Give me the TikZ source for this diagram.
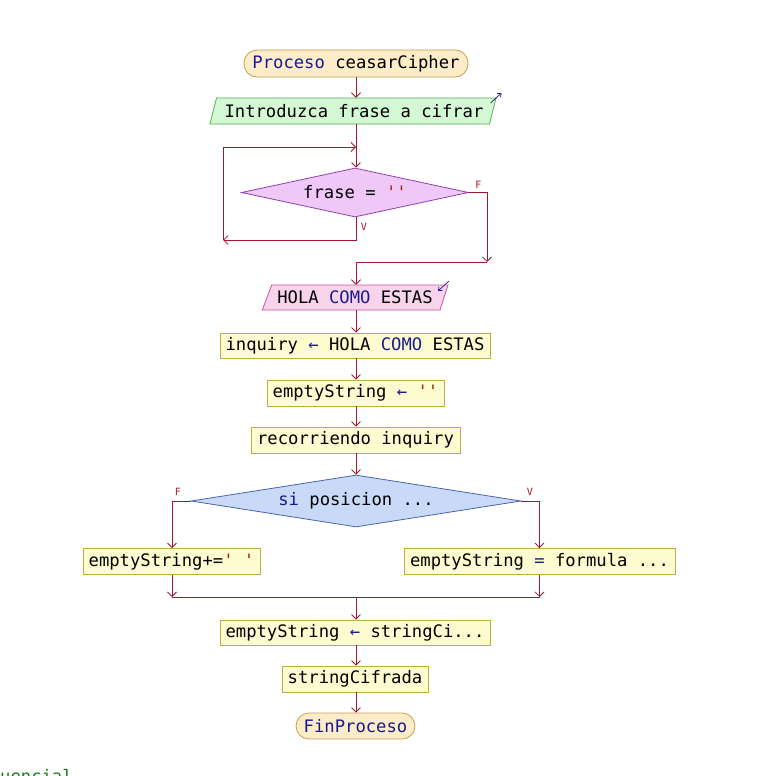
\documentclass[tikz,border=0pt]{standalone}
\usepackage{fontspec}
\setmonofont{DejaVu Sans Mono}
\usetikzlibrary{arrows.meta,shapes.geometric}
\definecolor{ln}{HTML}{A01830}
\definecolor{kw}{HTML}{1A1A90}
\definecolor{str}{HTML}{B02020}
\definecolor{termf}{HTML}{FDECC8}
\definecolor{termb}{HTML}{C89E50}
\definecolor{inf}{HTML}{D4F8D4}
\definecolor{inb}{HTML}{50B050}
\definecolor{outf}{HTML}{F8D4EC}
\definecolor{outb}{HTML}{D050A0}
\definecolor{procf}{HTML}{FCFCD0}
\definecolor{procb}{HTML}{B8B040}
\definecolor{donef}{HTML}{F0C8F8}
\definecolor{doneb}{HTML}{9040A8}
\definecolor{dtwof}{HTML}{C8DAF8}
\definecolor{dtwob}{HTML}{4A64A8}
\definecolor{seqc}{HTML}{1A7A1A}
\begin{document}
\begin{tikzpicture}[x=1pt,y=-1pt,
  >={Straight Barb[length=4.5pt,width=9pt]},
  conn/.style={draw=ln,line width=0.8pt},
  code/.style={font=\ttfamily\fontsize{17.2}{20}\selectfont,inner sep=0pt},
  term/.style={code,draw=termb,fill=termf,line width=0.8pt,rounded corners=13pt},
  proc/.style={code,draw=procb,fill=procf,line width=0.8pt},
  ghost/.style={code},
  dec/.style={code,diamond,line width=0.8pt},
  lab/.style={font=\ttfamily\fontsize{10}{11}\selectfont,text=ln,inner sep=0pt},
  icon/.style={draw=kw,line width=0.7pt,-{Straight Barb[length=3pt,width=5pt]}}]
\useasboundingbox (0,0) rectangle (757,776);
% shapes for input / output
\draw[fill=inf,draw=inb,line width=0.8pt] (216.5,98) -- (496,98) -- (489.5,124) -- (210,124) -- cycle;
\draw[fill=outf,draw=outb,line width=0.8pt] (271.7,285) -- (448,285) -- (440,310) -- (262.3,310) -- cycle;
% nodes
\node[term,minimum width=224pt,minimum height=27pt] (start) at (356,63.5) {{\color{kw}Proceso} ceasarCipher};
\node[ghost,minimum width=280pt,minimum height=26pt] (in) at (354,111) {Introduzca frase a cifrar};
\node[dec,draw=doneb,fill=donef,shape aspect=4.6,minimum width=227pt,minimum height=49pt] (d1) at (355,192.5) {frase = {\color{str}''}};
\node[ghost,minimum width=180pt,minimum height=25pt] (out) at (355,297.5) {HOLA {\color{kw}COMO} ESTAS};
\node[proc,minimum width=270pt,minimum height=25pt] (inq) at (355,345.5) {inquiry {\color{kw}←} HOLA {\color{kw}COMO} ESTAS};
\node[proc,minimum width=177pt,minimum height=26pt] (es) at (355.5,393) {emptyString {\color{kw}←} {\color{str}''}};
\node[proc,minimum width=209pt,minimum height=26pt] (rec) at (355.5,440) {recorriendo inquiry};
\node[dec,draw=dtwob,fill=dtwof,shape aspect=6.3,minimum width=330pt,minimum height=52pt] (d2) at (356,501) {{\color{kw}si} posicion ...};
\node[proc,minimum width=177pt,minimum height=26pt] (left) at (171.5,561.5) {emptyString+={\color{str}' '}};
\node[proc,minimum width=271pt,minimum height=26pt] (right) at (539.5,561.5) {emptyString {\color{kw}=} formula ...};
\node[proc,minimum width=270pt,minimum height=25pt] (esc) at (355,632.5) {emptyString {\color{kw}←} stringCi...};
\node[proc,minimum width=146pt,minimum height=26pt] (sc) at (355,679) {stringCifrada};
\node[term,minimum width=119pt,minimum height=26pt] (fin) at (355.5,726) {{\color{kw}FinProceso}};
% icons
\coordinate (ia) at (490.5,103);
\coordinate (ib) at (501.5,93);
\draw[icon] (ia) -- (ib);
\coordinate (oa) at (449,281);
\coordinate (ob) at (438,291);
\draw[icon] (oa) -- (ob);
% coordinates
\coordinate (j1) at (356,147);
\coordinate (lt) at (223,147);
\coordinate (lb) at (223,240);
\coordinate (vb) at (356,240);
\coordinate (fr) at (487,262);
\coordinate (m1) at (356,262);
\coordinate (ml) at (172,597);
\coordinate (mr) at (539.5,597);
\coordinate (m2) at (356,597);
% connectors
\draw[conn,->] (start.south) -- (start.south |- in.north);
\draw[conn,->] (start.south |- in.south) -- (start.south |- d1.north);
\draw[conn,->] (start.south |- d1.south) -- (vb) -- (lb);
\draw[conn,->] (lb) -- (lt) -- (j1);
\draw[conn,->] (d1.east) -- (fr |- d1.east) -- (fr);
\draw[conn] (fr) -- (m1);
\draw[conn,->] (m1) -- (m1 |- out.north);
\draw[conn,->] (m1 |- out.south) -- (m1 |- inq.north);
\draw[conn,->] (m1 |- inq.south) -- (m1 |- es.north);
\draw[conn,->] (m1 |- es.south) -- (m1 |- rec.north);
\draw[conn,->] (m1 |- rec.south) -- (d2.north);
\draw[conn,->] (d2.west) -- (ml |- d2.west) -- (ml |- left.north);
\draw[conn,->] (d2.east) -- (mr |- d2.east) -- (mr |- right.north);
\draw[conn,->] (ml |- left.south) -- (ml);
\draw[conn,->] (mr |- right.south) -- (mr);
\draw[conn] (ml) -- (mr);
\draw[conn,->] (m2) -- (m2 |- esc.north);
\draw[conn,->] (m2 |- esc.south) -- (m2 |- sc.north);
\draw[conn,->] (m2 |- sc.south) -- (m2 |- fin.north);
% labels
\node[lab] (lf1) at (478.5,185) {F};
\node[lab] (lv1) at (364,227) {V};
\node[lab] (lf2) at (178,492) {F};
\node[lab] (lv2) at (530,492) {V};
% bottom clipped text
\begin{scope}
\clip (0,0) rectangle (757,776);
\node[code,anchor=base west,text=seqc] (seq) at (0,782.5) {uencial};
\end{scope}
\end{tikzpicture}
\end{document}
